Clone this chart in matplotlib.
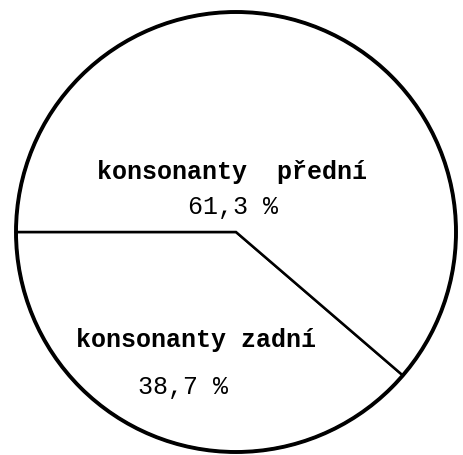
import matplotlib.pyplot as plt
from matplotlib.patches import Circle

# share of front / back consonants (percent)
labels = ['konsonanty zadní', 'konsonanty  přední']
shares = [38.7, 61.3]

fig = plt.figure(figsize=(4.63, 4.55), dpi=100)
ax = fig.add_axes([0, 0, 1, 1])

cx, cy, r = 236, 223, 220

wedges, _ = ax.pie(shares, startangle=180, counterclock=True,
                   center=(cx, cy), radius=r, colors=['white', 'white'],
                   wedgeprops=dict(edgecolor='black', linewidth=1.8))
ax.set_xlim(0, 463)
ax.set_ylim(0, 455)
ax.set_aspect('equal')
ax.axis('off')

# heavier outer rim, like the ink drawing
ax.add_patch(Circle((cx, cy), r, fill=False, edgecolor='black', linewidth=2.8))

font = ['Liberation Mono', 'DejaVu Sans Mono']
pct = lambda v: ('%.1f %%' % v).replace('.', ',')

# front consonants (upper slice)
ax.text(232, 455 - 172, labels[1], ha='center', va='center',
        family=font, fontsize=18, fontweight='bold')
ax.text(233, 455 - 207, pct(shares[1]), ha='center', va='center',
        family=font, fontsize=18)
# back consonants (lower slice)
ax.text(196, 455 - 340, labels[0], ha='center', va='center',
        family=font, fontsize=18, fontweight='bold')
ax.text(183, 455 - 387, pct(shares[0]), ha='center', va='center',
        family=font, fontsize=18)

fig.savefig('out.png', dpi=100, facecolor='white')
